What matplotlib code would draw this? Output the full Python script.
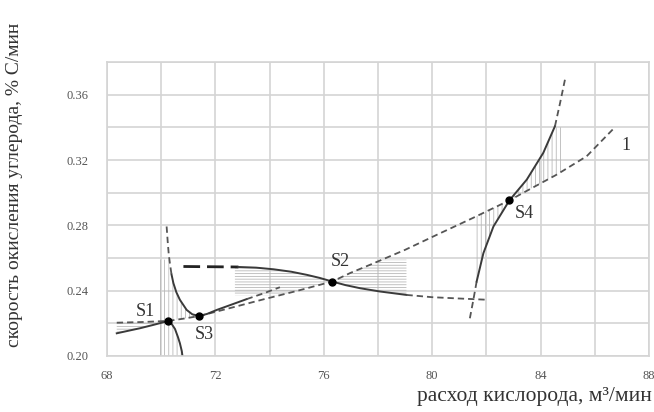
import numpy as np
import matplotlib.pyplot as plt

plt.rcParams['font.family'] = ['Liberation Serif', 'DejaVu Serif']
plt.rcParams['hatch.linewidth'] = 0.6

# line 1 (dashed)
l1_x = [68.36, 69.3, 70.26, 70.8, 71.41, 72.6, 73.8, 75.0, 76.31, 77.0, 77.70, 79.0, 80.17, 81.5, 82.85, 83.7, 84.59, 85.70, 86.68]
l1_y = [0.2204, 0.2208, 0.2215, 0.2228, 0.2245, 0.2296, 0.2348, 0.2398, 0.2456, 0.2510, 0.2558, 0.2650, 0.2742, 0.2845, 0.2953, 0.3030, 0.3110, 0.3223, 0.3390]

# S1 curve (solid)
b_x = [68.36, 68.8, 69.22, 69.7, 70.0, 70.26, 70.38, 70.51, 70.62, 70.69, 70.76, 70.78]
b_y = [0.2139, 0.2155, 0.2170, 0.2190, 0.2203, 0.2215, 0.2198, 0.2165, 0.2115, 0.2078, 0.2030, 0.2005]

# S3 curve: dashed top, solid middle, dashed tail
c_top_x = [70.20, 70.24, 70.28, 70.32, 70.38]
c_top_y = [0.2793, 0.2700, 0.2620, 0.2569, 0.2500]
c_x = [70.38, 70.45, 70.56, 70.69, 70.94, 71.15, 71.41, 71.70, 72.05, 72.60, 73.15]
c_y = [0.2500, 0.2446, 0.2390, 0.2344, 0.2282, 0.2255, 0.2245, 0.2258, 0.2282, 0.2315, 0.2348]
c_tail_x = [73.15, 73.80, 74.38]
c_tail_y = [0.2348, 0.2385, 0.2421]

# S2 curve: thick dashed start, solid middle, dashed tail
d_head_x = [70.82, 72.85]
d_head_y = [0.2548, 0.2545]
d_x = [72.85, 73.5, 74.14, 74.8, 75.37, 75.85, 76.31, 76.8, 77.34, 78.07, 79.05]
d_y = [0.2545, 0.2541, 0.2531, 0.2516, 0.2497, 0.2478, 0.2456, 0.2434, 0.2415, 0.2395, 0.2374]
d_tail_x = [79.05, 80.0, 81.0, 82.07]
d_tail_y = [0.2374, 0.2360, 0.2352, 0.2344]

# S4 curve: dashed ends, solid middle
e_head_x = [81.39, 81.52, 81.64]
e_head_y = [0.2231, 0.2345, 0.2456]
e_x = [81.64, 81.89, 82.26, 82.85, 83.49, 84.10, 84.53]
e_y = [0.2456, 0.2630, 0.2793, 0.2953, 0.3080, 0.3244, 0.3407]
e_tail_x = [84.53, 84.72, 84.90]
e_tail_y = [0.3407, 0.3550, 0.3693]

# points
pt_names = ['S1', 'S2', 'S3', 'S4']
pt_x = [70.26, 76.31, 71.41, 82.85]
pt_y = [0.2215, 0.2456, 0.2245, 0.2953]
lab_x = [69.4, 76.6, 71.6, 83.4]
lab_y = [0.227, 0.258, 0.213, 0.287]

x_ticks = [68, 72, 76, 80, 84, 88]
y_ticks = [0.20, 0.24, 0.28, 0.32, 0.36]

fig = plt.figure(figsize=(6.54, 4.12), dpi=100)
ax = fig.add_axes([107 / 654, 56 / 412, 542 / 654, 294 / 412])
ax.set_xlim(68, 88)
ax.set_ylim(0.20, 0.38)

ax.set_xticks(x_ticks)
ax.set_xticks(np.arange(68, 89, 2), minor=True)
ax.set_yticks(y_ticks)
ax.set_yticks(np.arange(0.20, 0.381, 0.02), minor=True)
ax.set_yticklabels([f'{v:.2f}' for v in y_ticks])
ax.grid(which='both', color='#d4d4d4', lw=1.2)
ax.set_axisbelow(True)
ax.tick_params(which='both', length=0, labelsize=9, labelcolor='#555555')
ax.tick_params(axis='x', pad=10)
ax.tick_params(axis='y', pad=13)
for s in ax.spines.values():
    s.set_color('#d4d4d4')
    s.set_linewidth(1.2)

hatch_kw = dict(facecolor='none', edgecolor='#b8b8b8', linewidth=0)

# horizontal hatch left of S1
fx = np.linspace(68.36, 70.0, 50)
ax.fill_between(fx, np.interp(fx, b_x, b_y), np.interp(fx, l1_x, l1_y), hatch='------', **hatch_kw)

# vertical hatch around S1 / S3
fx = np.linspace(69.95, 70.76, 60)
up = np.where(fx < 70.26, 0.259, np.interp(fx, b_x, b_y))
ax.fill_between(fx, 0.20, up, hatch='||||', **hatch_kw)
fx = np.linspace(70.26, 71.41, 60)
cc = np.interp(fx, c_top_x + c_x, c_top_y + c_y)
ax.fill_between(fx, np.interp(fx, l1_x, l1_y), np.minimum(cc, 0.259), hatch='||||', **hatch_kw)

# horizontal hatch around S2
fx = np.linspace(72.72, 76.31, 80)
ax.fill_between(fx, np.maximum(np.interp(fx, l1_x, l1_y), 0.2372), np.interp(fx, d_x, d_y),
                hatch='------', **hatch_kw)
fx = np.linspace(76.31, 79.05, 80)
ax.fill_between(fx, np.interp(fx, d_x + d_tail_x, d_y + d_tail_y),
                np.minimum(np.interp(fx, l1_x, l1_y), 0.2590), hatch='------', **hatch_kw)

# vertical hatch around S4
ex = e_head_x + e_x[1:] + e_tail_x[1:]
ey = e_head_y + e_y[1:] + e_tail_y[1:]
fx = np.linspace(81.62, 82.85, 60)
ax.fill_between(fx, np.interp(fx, ex, ey), np.interp(fx, l1_x, l1_y), hatch='||||', **hatch_kw)
fx = np.linspace(82.85, 84.78, 60)
ax.fill_between(fx, np.interp(fx, l1_x, l1_y), np.minimum(np.interp(fx, ex, ey), 0.340),
                hatch='||||', **hatch_kw)

dash_kw = dict(color='#555555', lw=1.3, ls=(0, (3.5, 2.2)))
solid_kw = dict(color='#3a3a3a', lw=1.4)

ax.plot(l1_x, l1_y, **dash_kw)
ax.plot(b_x, b_y, **solid_kw)
ax.plot(c_top_x, c_top_y, **dash_kw)
ax.plot(c_x, c_y, **solid_kw)
ax.plot(c_tail_x, c_tail_y, **dash_kw)
ax.plot(d_head_x, d_head_y, color='#222222', lw=2.0, ls=(0, (6, 2.5)))
ax.plot(d_x, d_y, **solid_kw)
ax.plot(d_tail_x, d_tail_y, **dash_kw)
ax.plot(e_head_x, e_head_y, **dash_kw)
ax.plot(e_x, e_y, **solid_kw)
ax.plot(e_tail_x, e_tail_y, **dash_kw)

ax.plot(pt_x, pt_y, 'o', color='black', ms=5, zorder=5)
for name, x, y in zip(pt_names, lab_x, lab_y):
    ax.text(x, y, name, fontsize=13, color='#333333', ha='center', va='center')
ax.text(87.15, 0.329, '1', fontsize=13, color='#333333', ha='center', va='center')

fig.text(15 / 654, 1 - 185 / 412, 'скорость окисления углерода, % С/мин',
         rotation=90, ha='center', va='center', fontsize=14, color='#333333')
fig.text(652 / 654, 1 - 397 / 412, 'расход кислорода, м³/мин',
         ha='right', va='center', fontsize=15.5, color='#333333')

fig.savefig('out.png', dpi=100)
